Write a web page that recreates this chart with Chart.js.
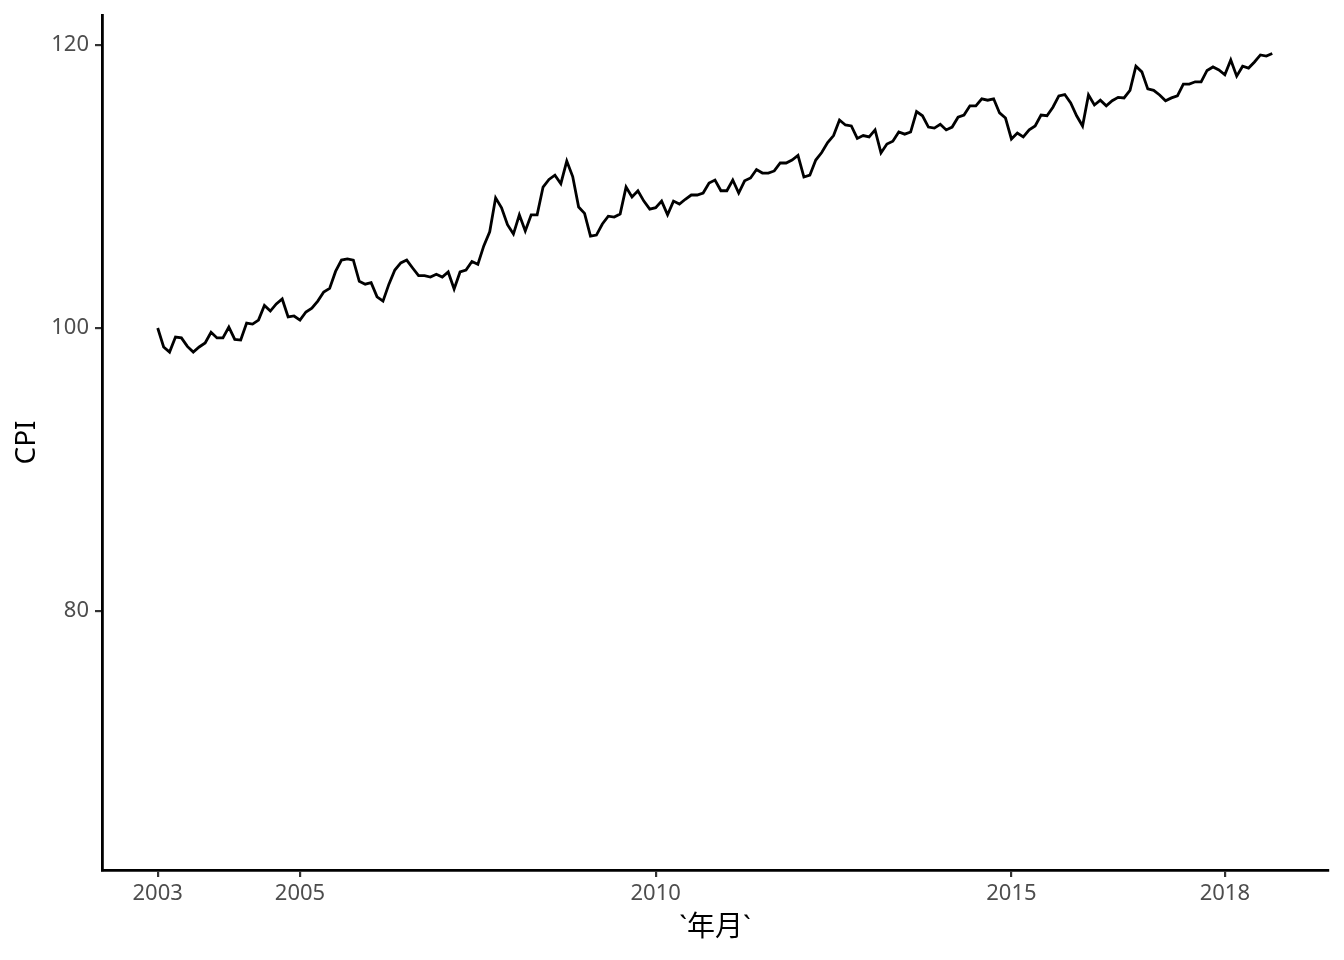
<!DOCTYPE html>
<html>
<head>
<meta charset="utf-8">
<script src="https://cdn.jsdelivr.net/npm/chart.js@4"></script>
<style>
html, body { margin: 0; padding: 0; background: #ffffff; }
canvas { display: block; }
</style>
</head>
<body>
<canvas id="c" width="1344" height="960"></canvas>
<script>
// Monthly CPI, Jan 2003 – Sep 2018
const startYear = 2003;
const cpi = [
  100.0, 98.66, 98.3, 99.36, 99.3, 98.7, 98.3, 98.66, 98.94, 99.7, 99.3, 99.3,
  100.07, 99.2, 99.15, 100.35, 100.28, 100.56, 101.6, 101.2, 101.7, 102.05, 100.78, 100.85,
  100.56, 101.13, 101.4, 101.9, 102.54, 102.8, 104.0, 104.8, 104.88, 104.8, 103.3, 103.1,
  103.2, 102.2, 101.9, 103.1, 104.1, 104.6, 104.8, 104.24, 103.7, 103.7, 103.6, 103.8,
  103.6, 103.96, 102.76, 103.96, 104.1, 104.7, 104.5, 105.8, 106.8, 109.2, 108.5, 107.3,
  106.64, 108.0, 106.86, 108.0, 108.0, 109.96, 110.5, 110.8, 110.2, 111.8, 110.7, 108.55,
  108.1, 106.5, 106.57, 107.35, 107.9, 107.84, 108.06, 109.96, 109.26, 109.7, 108.97, 108.4,
  108.5, 108.97, 108.0, 108.97, 108.76, 109.1, 109.4, 109.4, 109.54, 110.25, 110.46, 109.7,
  109.7, 110.46, 109.54, 110.4, 110.6, 111.2, 110.95, 110.95, 111.1, 111.66, 111.66, 111.87,
  112.2, 110.67, 110.8, 111.87, 112.4, 113.1, 113.6, 114.7, 114.35, 114.28, 113.4, 113.6,
  113.5, 114.0, 112.37, 113.0, 113.2, 113.85, 113.7, 113.85, 115.3, 115.0, 114.2, 114.13,
  114.4, 114.0, 114.2, 114.9, 115.05, 115.7, 115.7, 116.2, 116.1, 116.2, 115.2, 114.84,
  113.36, 113.78, 113.5, 114.0, 114.28, 115.05, 115.0, 115.6, 116.4, 116.5, 115.9, 115.0,
  114.28, 116.47, 115.76, 116.1, 115.7, 116.06, 116.3, 116.26, 116.8, 118.5, 118.1, 116.9,
  116.8, 116.47, 116.06, 116.26, 116.4, 117.24, 117.24, 117.4, 117.4, 118.2, 118.45, 118.24,
  117.9, 118.94, 117.8, 118.5, 118.37, 118.8, 119.3, 119.22, 119.4
];
const xTicks = [2003, 2005, 2010, 2015, 2018];
const yTicks = [80, 100, 120];
const xTitle = '`年月`';
const yTitle = 'CPI';

const points = cpi.map((v, i) => ({ x: startYear + i / 12, y: v }));

const FONT = "'Noto Sans', 'Noto Sans CJK SC', sans-serif";

new Chart(document.getElementById('c'), {
  type: 'line',
  data: {
    datasets: [{
      data: points,
      borderColor: '#000000',
      borderWidth: 2.8,
      pointRadius: 0,
      tension: 0,
      fill: false
    }]
  },
  options: {
    responsive: false,
    animation: false,
    layout: { padding: { top: 15, right: 16, left: 0, bottom: 0 } },
    plugins: { legend: { display: false }, tooltip: { enabled: false } },
    scales: {
      x: {
        type: 'linear',
        min: 2002.217,
        max: 2019.45,
        afterBuildTicks: (s) => { s.ticks = xTicks.map(v => ({ value: v })); },
        afterFit: (s) => { s.height = 90; s.paddingLeft = 0; s.paddingRight = 0; },
        grid: { display: true, drawOnChartArea: false, drawTicks: true, tickLength: 7, color: '#333333', lineWidth: 2.2 },
        border: { display: true, color: '#000000', width: 2.8 },
        ticks: {
          autoSkip: false, maxRotation: 0, padding: 4,
          color: '#4d4d4d',
          font: { family: FONT, size: 22 },
          callback: (v) => String(v)
        },
        title: {
          display: true, text: xTitle, color: '#000000',
          font: { family: FONT, size: 28 },
          padding: { top: 0, bottom: 15 }
        }
      },
      y: {
        type: 'linear',
        min: 61.7,
        max: 122.12,
        afterBuildTicks: (s) => { s.ticks = yTicks.map(v => ({ value: v })); },
        afterFit: (s) => { s.width = 102; s.paddingTop = 0; s.paddingBottom = 0; },
        grid: { display: true, drawOnChartArea: false, drawTicks: true, tickLength: 7, color: '#333333', lineWidth: 2.2 },
        border: { display: true, color: '#000000', width: 2.8 },
        ticks: {
          autoSkip: false, padding: 6,
          color: '#4d4d4d',
          font: { family: FONT, size: 22 },
          callback: (v) => String(v)
        },
        title: {
          display: true, text: yTitle, color: '#000000',
          font: { family: FONT, size: 28 },
          padding: { top: 10, bottom: 0 }
        }
      }
    }
  }
});
</script>
</body>
</html>
